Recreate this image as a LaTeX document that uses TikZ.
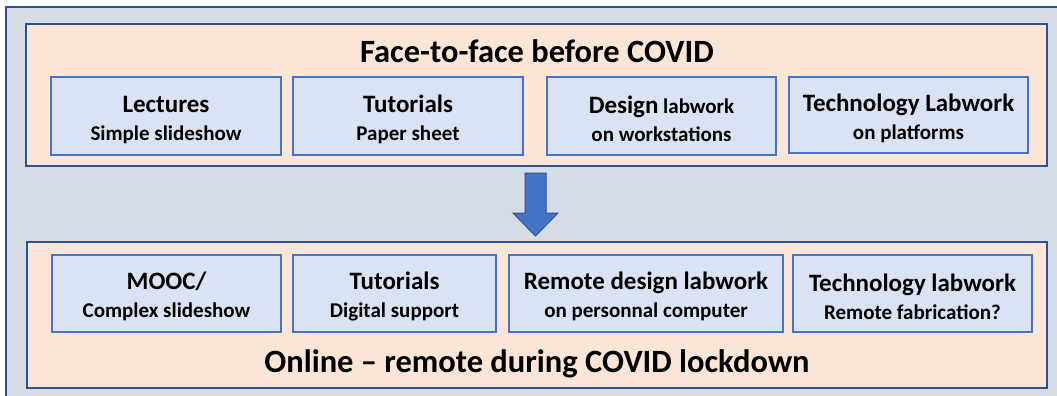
\documentclass[tikz,border=0pt]{standalone}
\usepackage{fontspec}
\setmainfont{Carlito}
\definecolor{frameblue}{HTML}{2F528F}
\definecolor{boxblue}{HTML}{4472C4}
\definecolor{greyfill}{HTML}{D6DCE5}
\definecolor{peach}{HTML}{FBE5D6}
\definecolor{paleblue}{HTML}{DAE3F3}
\newcommand{\ctitle}[1]{{\fontsize{25}{28}\selectfont\rule{0pt}{24pt}#1}}
\tikzset{
  phase/.style={draw=frameblue, fill=peach, line width=1.2pt, inner sep=0pt},
  course/.style={draw=boxblue, fill=paleblue, line width=1.2pt, align=center, inner sep=0pt,
    font=\fontsize{21}{28}\selectfont\bfseries},
  heading/.style={font=\fontsize{32.5}{36}\selectfont\bfseries}
}
\begin{document}
\begin{tikzpicture}[x=1pt,y=-1pt]
  \useasboundingbox (0,0) rectangle (1057,396);
  \fill[greyfill] (6,7) rectangle (1070,410);
  \draw[frameblue, line width=1.2pt] (6,410) -- (6,7) -- (1070,7);

  % before COVID
  \node[phase, minimum width=1021pt, minimum height=142pt] (before) at (536.5,95) {};
  \node[heading] (beforetitle) at (537,51) {Face-to-face before COVID};
  \node[course, minimum width=230pt, minimum height=78pt] (lectures) at (166,116) {\ctitle{Lectures}\\Simple slideshow};
  \node[course, minimum width=230pt, minimum height=78pt] (tutorials) at (408,116) {\ctitle{Tutorials}\\Paper sheet};
  \node[course, minimum width=229pt, minimum height=78pt] (design) at (661.5,116) {\ctitle{Design} labwork\\on workstations};
  \node[course, minimum width=239pt, minimum height=76pt] (techlab) at (908.5,115) {\ctitle{Technology Labwork}\\on platforms};

  % shift
  \draw[frameblue, fill=boxblue, line width=1pt, line join=miter]
    (525,173) -- (546,173) -- (546,213) -- (558,213) -- (535.5,236) -- (513,213) -- (525,213) -- cycle;

  % during COVID
  \node[phase, minimum width=1020pt, minimum height=146pt] (during) at (537,315) {};
  \node[heading] (duringtitle) at (537,364) {Online -- remote during COVID lockdown};
  \node[course, minimum width=229pt, minimum height=77pt] (mooc) at (166.5,293.5) {\ctitle{MOOC/}\\Complex slideshow};
  \node[course, minimum width=203pt, minimum height=77pt] (digital) at (394.5,293.5) {\ctitle{Tutorials}\\Digital support};
  \node[course, minimum width=274pt, minimum height=77pt] (remote) at (646,293.5) {\ctitle{Remote design labwork}\\on personnal computer};
  \node[course, minimum width=239pt, minimum height=77pt] (fab) at (912.5,293.5) {\ctitle{Technology labwork}\\Remote fabrication?};
\end{tikzpicture}
\end{document}
